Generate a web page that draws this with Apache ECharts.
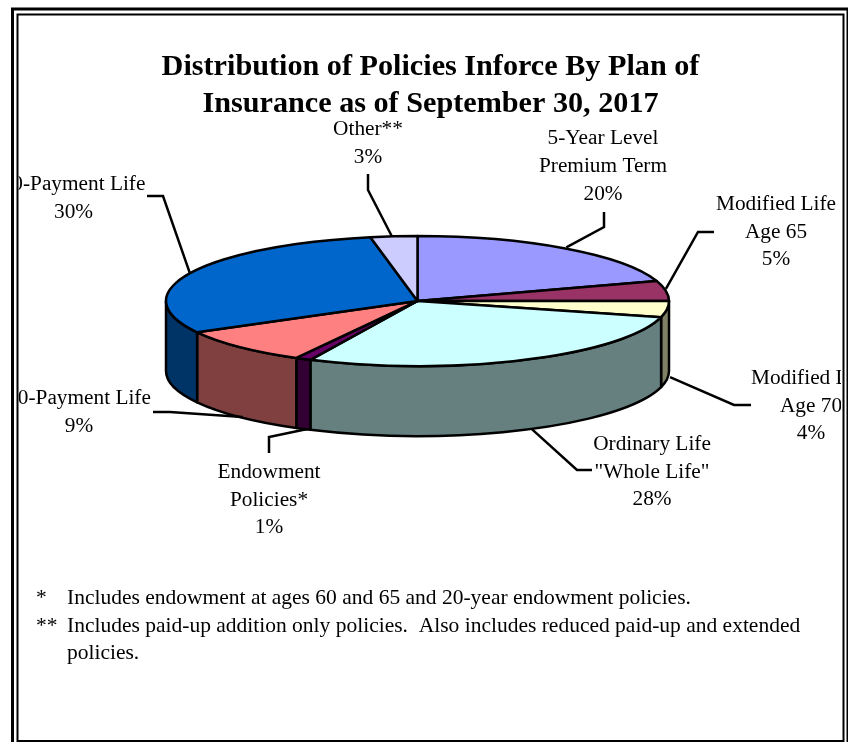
<!DOCTYPE html>
<html>
<head>
<meta charset="utf-8">
<style>html,body{margin:0;padding:0;background:#fff}#chart{width:848px;height:742px}</style>
<script src="https://cdn.jsdelivr.net/npm/echarts@6/dist/echarts.min.js"></script>
</head>
<body>
<div id="chart"></div>
<script>
// Plan-of-insurance shares, clockwise from twelve o'clock
const planNames = ['5-Year Level\nPremium Term', 'Modified Life\nAge 65', 'Modified Life\nAge 70', 'Ordinary Life\n"Whole Life"', 'Endowment\nPolicies*', '20-Payment Life', '30-Payment Life', 'Other**'];
const planShares = [20, 5, 4, 28, 1, 9, 30, 3];
const topColors = ['#9999FF', '#993366', '#FFFFCC', '#CCFFFF', '#660066', '#FF8080', '#0066CC', '#CCCCFF'];
const sideColors = ['#4D4D80', '#4D1A33', '#808066', '#668080', '#330033', '#804040', '#003366', '#666680'];
const titleLines = 'Distribution of Policies Inforce By Plan of\nInsurance as of September 30, 2017';
const footnoteMarks = ['*', '**'];
const footnotes = ['Includes endowment at ages 60 and 65 and 20-year endowment policies.', 'Includes paid-up addition only policies.  Also includes reduced paid-up and extended\npolicies.'];

// Disc geometry of the tilted pie
const disc = { cx: 417.5, cy: 301, rx: 251.5, ry: 65, depth: 70 };
// Callout placement: leader elbow, leader end, text centre, top of text block, rim the leader starts on, start nudge
const callouts = [
  { elbow: [604, 227], end: [604, 212], tx: 603, ty: 125, rim: 'top', nudge: [1, -1] },
  { elbow: [698, 232], end: [714, 232], tx: 776, ty: 190.5, rim: 'top', nudge: [0, -2] },
  { elbow: [734, 405], end: [751, 405], tx: 811, ty: 364.5, rim: 'bottom', nudge: [3, -2] },
  { elbow: [577, 470], end: [592, 470], tx: 652, ty: 430.5, rim: 'bottom', nudge: [7, -1] },
  { elbow: [269, 437], end: [269, 453], tx: 269, ty: 458.5, rim: 'bottom', nudge: [4, 0] },
  { elbow: [170, 412], end: [153, 412], tx: 79, ty: 385, rim: 'bottom', nudge: [3, 0] },
  { elbow: [163, 196], end: [147, 196], tx: 73.5, ty: 170.5, rim: 'top', nudge: [0, 0] },
  { elbow: [368, 190], end: [368, 174], tx: 368, ty: 115.5, rim: 'top', nudge: [-2, 0] }
];

const total = planShares.reduce((a, b) => a + b, 0);
const cumulative = [];
planShares.reduce((sum, v, i) => { cumulative[i] = sum; return sum + v; }, 0);

// Point on the disc rim; angle runs clockwise from the top
function rimPoint(t, drop) {
  return [disc.cx + disc.rx * Math.sin(t), disc.cy - disc.ry * Math.cos(t) + (drop || 0)];
}
function sliceAngles(i) {
  const a0 = cumulative[i] / total * 2 * Math.PI;
  const a1 = (cumulative[i] + planShares[i]) / total * 2 * Math.PI;
  return [a0, a1];
}
function topPath(a0, a1) {
  const p0 = rimPoint(a0), p1 = rimPoint(a1);
  const large = a1 - a0 > Math.PI ? 1 : 0;
  return `M${disc.cx} ${disc.cy}L${p0[0]} ${p0[1]}A${disc.rx} ${disc.ry} 0 ${large} 1 ${p1[0]} ${p1[1]}Z`;
}
function sidePath(a0, a1) {
  // Only the part of the rim facing the viewer gets a wall
  const s = Math.max(a0, Math.PI / 2), e = Math.min(a1, Math.PI * 1.5);
  if (e <= s) return null;
  const p0 = rimPoint(s), p1 = rimPoint(e), q0 = rimPoint(s, disc.depth), q1 = rimPoint(e, disc.depth);
  return `M${p0[0]} ${p0[1]}A${disc.rx} ${disc.ry} 0 0 1 ${p1[0]} ${p1[1]}L${q1[0]} ${q1[1]}A${disc.rx} ${disc.ry} 0 0 0 ${q0[0]} ${q0[1]}Z`;
}
const edge = { stroke: '#000', lineWidth: 2.5, lineJoin: 'round' };
const seriesData = planShares.map((v, i) => ({ name: planNames[i], value: v }));
const noteFont = '21.5px "Liberation Serif"';

const option = {
  animation: false,
  backgroundColor: '#fff',
  title: {
    text: titleLines, left: 425.5, top: 44, textAlign: 'center',
    textStyle: { fontFamily: 'Liberation Serif', fontWeight: 'bold', fontSize: 30.2, lineHeight: 37, color: '#000' }
  },
  graphic: [
    // Double page frame
    { type: 'rect', silent: true, z: 50, shape: { x: 12.5, y: 9, width: 835.5, height: 740 }, style: { fill: 'none', stroke: '#000', lineWidth: 3 } },
    { type: 'rect', silent: true, z: 50, shape: { x: 17.5, y: 14.5, width: 826, height: 726.5 }, style: { fill: 'none', stroke: '#000', lineWidth: 2 } },
    { type: 'text', silent: true, style: { x: 36, y: 584.5, text: footnoteMarks[0], font: noteFont, lineHeight: 27, fill: '#000' } },
    { type: 'text', silent: true, style: { x: 67, y: 584.5, text: footnotes[0], font: noteFont, lineHeight: 27, fill: '#000' } },
    { type: 'text', silent: true, style: { x: 36, y: 612.5, text: footnoteMarks[1], font: noteFont, lineHeight: 27, fill: '#000' } },
    { type: 'text', silent: true, style: { x: 67, y: 612.5, text: footnotes[1], font: noteFont, lineHeight: 27, fill: '#000' } }
  ],
  series: [
    {
      type: 'custom', coordinateSystem: 'none', name: 'Slices', silent: true, data: seriesData, z: 2,
      renderItem: (params) => {
        const i = params.dataIndex;
        const [a0, a1] = sliceAngles(i);
        const children = [];
        const side = sidePath(a0, a1);
        if (side) children.push({ type: 'path', shape: { pathData: side }, style: { fill: sideColors[i], ...edge } });
        children.push({ type: 'path', shape: { pathData: topPath(a0, a1) }, style: { fill: topColors[i], ...edge } });
        return { type: 'group', children };
      }
    },
    {
      type: 'custom', coordinateSystem: 'none', name: 'Callouts', silent: true, data: seriesData, z: 3,
      renderItem: (params) => {
        const i = params.dataIndex;
        const [a0, a1] = sliceAngles(i);
        const c = callouts[i];
        const rim = rimPoint((a0 + a1) / 2, c.rim === 'bottom' ? disc.depth : 0);
        const start = [rim[0] + c.nudge[0], rim[1] + c.nudge[1]];
        return {
          type: 'group',
          children: [
            { type: 'polyline', shape: { points: [start, c.elbow, c.end] }, style: { fill: 'none', stroke: '#000', lineWidth: 2.5 } },
            {
              type: 'text',
              clipPath: { type: 'rect', shape: { x: 18.5, y: 15, width: 822.5, height: 723 } },
              style: {
                x: c.tx, y: c.ty, text: planNames[i] + '\n' + planShares[i] + '%',
                font: '21.3px "Liberation Serif"', lineHeight: 27.6, align: 'center', verticalAlign: 'top', fill: '#000'
              }
            }
          ]
        };
      }
    }
  ]
};
echarts.init(document.getElementById('chart'), null, { renderer: 'canvas' }).setOption(option);
</script>
</body>
</html>
